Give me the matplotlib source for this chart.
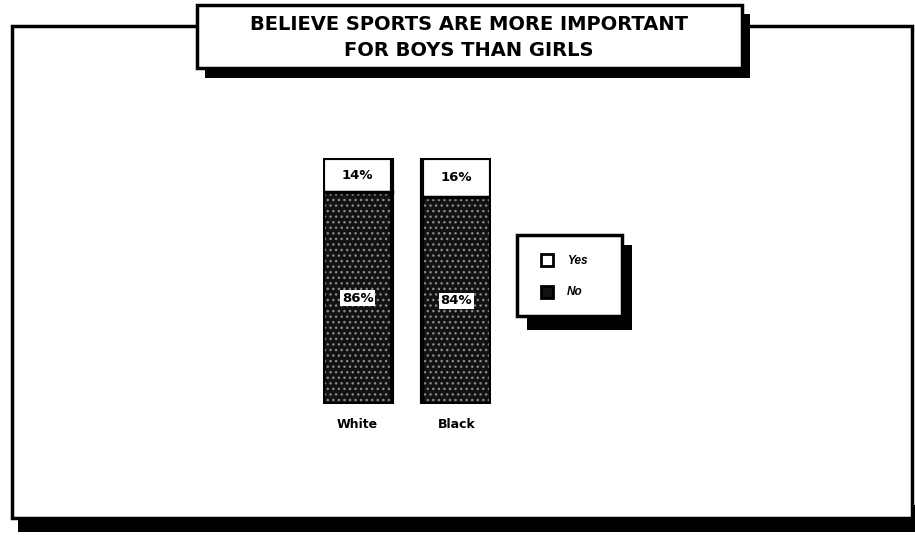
import matplotlib
matplotlib.use("Agg")
import matplotlib.pyplot as plt
from matplotlib.patches import Rectangle

categories = ["White", "Black"]
yes_vals = [14, 16]
no_vals = [86, 84]
title_lines = ["BELIEVE SPORTS ARE MORE IMPORTANT", "FOR BOYS THAN GIRLS"]
legend_labels = ["Yes", "No"]

W, H = 915, 540
fig = plt.figure(figsize=(W / 100, H / 100), dpi=100)
fig.patch.set_facecolor("white")
FONT = "DejaVu Sans"
LFONT = "Liberation Sans"

def px(x, y, w, h):
    return (x / W, 1 - (y + h) / H, w / W, h / H)

def frect(x, y, w, h, **kw):
    l, b, ww, hh = px(x, y, w, h)
    r = Rectangle((l, b), ww, hh, transform=fig.transFigure, **kw)
    fig.add_artist(r)
    return r

# outer frame with shadow
frect(18, 505, 897, 27, facecolor="black", edgecolor="none", zorder=1)
frect(12, 26, 900, 492, facecolor="white", edgecolor="black", linewidth=2.5, zorder=2)

# title box with shadow
frect(205, 14, 545, 64, facecolor="black", edgecolor="none", zorder=3)
frect(197, 5, 545, 63, facecolor="white", edgecolor="black", linewidth=2.5, zorder=4)
fig.text(469 / W, 1 - 24 / H, title_lines[0], ha="center", va="center",
         fontsize=14, fontweight="bold", family=FONT, zorder=5)
fig.text(469 / W, 1 - 51 / H, title_lines[1], ha="center", va="center",
         fontsize=14, fontweight="bold", family=FONT, zorder=5)

# bars
ax = fig.add_axes(px(323, 158, 168, 246))
ax.set_zorder(6)
ax.patch.set_visible(False)
x = list(range(len(categories)))
bw = 0.7
ax.bar(x, no_vals, width=bw, color="#121212", edgecolor="#8a8a8a",
       hatch="...", linewidth=0)
ax.bar(x, yes_vals, width=bw, bottom=no_vals, color="white", linewidth=0)
for xi, n, yv in zip(x, no_vals, yes_vals):
    ax.bar(xi, n + yv, width=bw, fill=False, edgecolor="black", linewidth=3)
    ax.plot([xi - bw / 2, xi + bw / 2], [n, n], color="black", linewidth=2.5)
    ax.text(xi, n + yv / 2, f"{yv}%", ha="center", va="center", fontsize=9.5,
            fontweight="bold", family=FONT)
    ax.text(xi, n / 2, f"{n}%", ha="center", va="center", fontsize=9.5,
            fontweight="bold", family=FONT,
            bbox=dict(boxstyle="square,pad=0.12", facecolor="white", edgecolor="none"))
ax.set_xlim(-bw / 2, len(categories) - 1 + bw / 2)
ax.set_ylim(0, 100)
ax.axis("off")
for xi, c in zip(x, categories):
    ax.text(xi, -8.5, c, ha="center", va="center", fontsize=9, fontweight="bold",
            family=FONT, clip_on=False)

# legend box with shadow
frect(527, 245, 105, 85, facecolor="black", edgecolor="none", zorder=3)
frect(517, 235, 105, 81, facecolor="white", edgecolor="black", linewidth=2.5, zorder=4)
frect(541, 254, 12, 12, facecolor="white", edgecolor="black", linewidth=2, zorder=5)
frect(541, 286, 12, 12, facecolor="#121212", edgecolor="black", linewidth=2, zorder=5)
fig.text(567 / W, 1 - 261 / H, legend_labels[0], ha="left", va="center", fontsize=8.5,
         fontweight="bold", style="italic", family=LFONT, zorder=5)
fig.text(567 / W, 1 - 292 / H, legend_labels[1], ha="left", va="center", fontsize=8.5,
         fontweight="bold", style="italic", family=LFONT, zorder=5)

fig.savefig("out.png", dpi=100, facecolor="white")
